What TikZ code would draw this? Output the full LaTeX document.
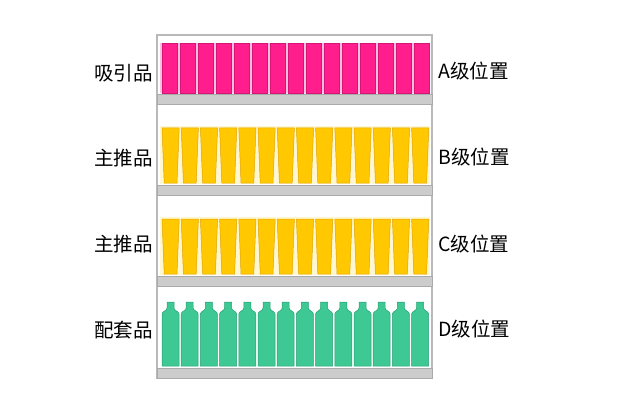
\documentclass[tikz,border=0pt]{standalone}
\usepackage{fontspec}
\setmainfont{Noto Sans CJK SC}
\definecolor{pinkc}{RGB}{255,30,140}
\definecolor{pinkedge}{RGB}{215,20,120}
\definecolor{pinkbg}{RGB}{255,190,220}
\definecolor{cupc}{RGB}{255,200,0}
\definecolor{cupedge}{RGB}{225,165,0}
\definecolor{cupbg}{RGB}{255,246,210}
\definecolor{bottlec}{RGB}{62,200,148}
\definecolor{bottleedge}{RGB}{40,160,115}
\definecolor{shelfc}{RGB}{204,204,204}
\definecolor{shelfedge}{RGB}{170,170,170}
\definecolor{framec}{RGB}{185,185,185}
\begin{document}
\begin{tikzpicture}[x=1pt,y=-1pt,
  lab/.style={font=\fontsize{19.5}{21}\selectfont, inner sep=0pt, text=black},
  box/.style={draw=pinkedge, line width=0.5pt, fill=pinkc},
  cup/.style={draw=cupedge, line width=0.5pt, fill=cupc},
  bottle/.style={draw=bottleedge, line width=0.5pt, fill=bottlec},
  shelf/.style={draw=shelfedge, line width=0.6pt, fill=shelfc}]
\useasboundingbox (0,0) rectangle (637,409);
\fill[white] (0,0) rectangle (637,409);
% frame
\draw[framec, line width=1.2pt] (157,35) rectangle (432,378);
% backgrounds
\fill[pinkbg] (160,43) rectangle (430,93);
\fill[cupbg] (160,126) rectangle (430,184);
\fill[cupbg] (160,217) rectangle (430,275);
% pink boxes
\foreach \i in {0,...,14}
  \draw[box] ({162+18*\i},43) rectangle ++(15,50);
% cups
\foreach \r in {128,219}{
  \foreach \i in {0,...,13}{
    \pgfmathsetmacro\xx{162+19.2*\i}
    \draw[cup] (\xx,\r) -- (\xx+17.2,\r) -- (\xx+15,\r+55) -- (\xx+2.2,\r+55) -- cycle;
  }
}
% bottles
\foreach \i in {0,...,13}{
  \pgfmathsetmacro\xx{162+19.2*\i}
  \draw[bottle] (\xx+5,302) -- (\xx+12,302) -- (\xx+12,308)
    .. controls (\xx+12,311) and (\xx+17,311) .. (\xx+17,314)
    -- (\xx+17,366) -- (\xx,366) -- (\xx,314)
    .. controls (\xx,311) and (\xx+5,311) .. (\xx+5,308) -- cycle;
}
% shelves
\foreach \y in {94,185,276,368}
  \draw[shelf] (157,\y) rectangle (432,\y+10);
% labels
\node[lab, anchor=east] (la) at (153,73) {吸引品};
\node[lab, anchor=east] (lb) at (153,158) {主推品};
\node[lab, anchor=east] (lc) at (153,244) {主推品};
\node[lab, anchor=east] (ld) at (153,330) {配套品};
\node[lab, anchor=west] (ra) at (438,71) {A级位置};
\node[lab, anchor=west] (rb) at (438,157) {B级位置};
\node[lab, anchor=west] (rc) at (438,244) {C级位置};
\node[lab, anchor=west] (rd) at (438,329) {D级位置};
\end{tikzpicture}
\end{document}
